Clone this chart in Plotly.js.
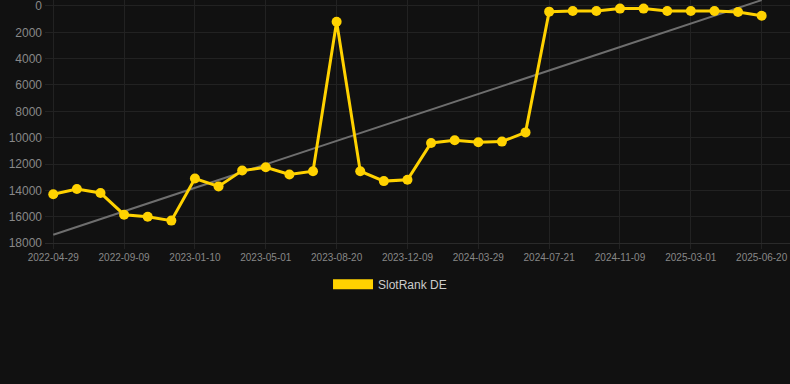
<!DOCTYPE html>
<html>
<head>
<meta charset="utf-8">
<script src="https://cdn.plot.ly/plotly-3.0.1.min.js"></script>
<style>
  html, body { margin: 0; padding: 0; background: #111111; }
  #chart { width: 790px; height: 384px; }
</style>
</head>
<body>
<div id="chart"></div>
<script>
// Categories (dates); every third one is labelled on the axis
const dates = [
  "2022-04-29", "2022-06-12", "2022-07-26",
  "2022-09-09", "2022-10-20", "2022-11-30",
  "2023-01-10", "2023-02-16", "2023-03-24",
  "2023-05-01", "2023-06-07", "2023-07-14",
  "2023-08-20", "2023-09-26", "2023-11-02",
  "2023-12-09", "2024-01-15", "2024-02-21",
  "2024-03-29", "2024-05-06", "2024-06-13",
  "2024-07-21", "2024-08-27", "2024-10-03",
  "2024-11-09", "2024-12-16", "2025-01-22",
  "2025-03-01", "2025-04-07", "2025-05-14",
  "2025-06-20"
];

// SlotRank DE values
const rankDE = [
  14300, 13900, 14200,
  15850, 16000, 16300,
  13100, 13700, 12500,
  12250, 12800, 12550,
  1200, 12550, 13300,
  13200, 10400, 10200,
  10350, 10300, 9600,
  430, 380, 380,
  200, 200, 380,
  380, 380, 455,
  735
];

const tickDates = [
  "2022-04-29", "2022-09-09", "2023-01-10", "2023-05-01", "2023-08-20",
  "2023-12-09", "2024-03-29", "2024-07-21", "2024-11-09", "2025-03-01", "2025-06-20"
];

const yTicks = [0, 2000, 4000, 6000, 8000, 10000, 12000, 14000, 16000, 18000];

// Linear regression trend line over the point index
const n = rankDE.length;
let sx = 0, sy = 0, sxx = 0, sxy = 0;
for (let i = 0; i < n; i++) { sx += i; sy += rankDE[i]; sxx += i * i; sxy += i * rankDE[i]; }
const slope = (n * sxy - sx * sy) / (n * sxx - sx * sx);
const intercept = (sy - slope * sx) / n;
const trendX = [dates[0], dates[n - 1]];
const trendY = [intercept, intercept + slope * (n - 1)];

const YELLOW = "#FFD200";
const FONT = "Liberation Sans, Arial, Helvetica, sans-serif";

const traces = [
  {
    x: trendX, y: trendY, type: "scatter", mode: "lines",
    line: { color: "#6e6e6e", width: 2 },
    showlegend: false, hoverinfo: "skip"
  },
  {
    x: dates, y: rankDE, type: "scatter", mode: "lines+markers",
    name: "SlotRank DE",
    line: { color: YELLOW, width: 3 },
    marker: { color: YELLOW, size: 10 },
    showlegend: false, cliponaxis: false
  },
  {
    x: [null], y: [null], type: "scatter", mode: "lines",
    name: "SlotRank DE",
    line: { color: YELLOW, width: 10 },
    showlegend: true, hoverinfo: "skip"
  }
];

const layout = {
  width: 790, height: 384,
  paper_bgcolor: "#111111", plot_bgcolor: "#111111",
  margin: { l: 45, r: 0, t: 0, b: 141 },
  font: { family: FONT, color: "#888888", size: 12 },
  showlegend: true,
  legend: {
    orientation: "h", xref: "container", yref: "container",
    x: 0.4937, xanchor: "center", y: 0.26, yanchor: "middle",
    font: { family: FONT, color: "#cccccc", size: 12 },
    itemwidth: 40, bgcolor: "rgba(0,0,0,0)"
  },
  xaxis: {
    type: "category",
    categoryorder: "array", categoryarray: dates,
    range: [-0.35, 31.2],
    tickvals: tickDates, ticktext: tickDates,
    tickfont: { size: 10, color: "#888888" },
    showgrid: true, gridcolor: "#222222", gridwidth: 1,
    ticks: "outside", ticklen: 5, tickcolor: "#222222",
    showline: true, linecolor: "#2a2a2a", linewidth: 1,
    zeroline: false
  },
  yaxis: {
    range: [18000, -455],
    tickvals: yTicks, ticktext: yTicks.map(String),
    tickfont: { size: 12, color: "#888888" },
    showgrid: true, gridcolor: "#222222", gridwidth: 1,
    zeroline: false, showline: false, ticks: "", ticklabelstandoff: 2,
    ticklabeloverflow: "allow"
  }
};

Plotly.newPlot("chart", traces, layout, { displayModeBar: false, staticPlot: true });
</script>
</body>
</html>
